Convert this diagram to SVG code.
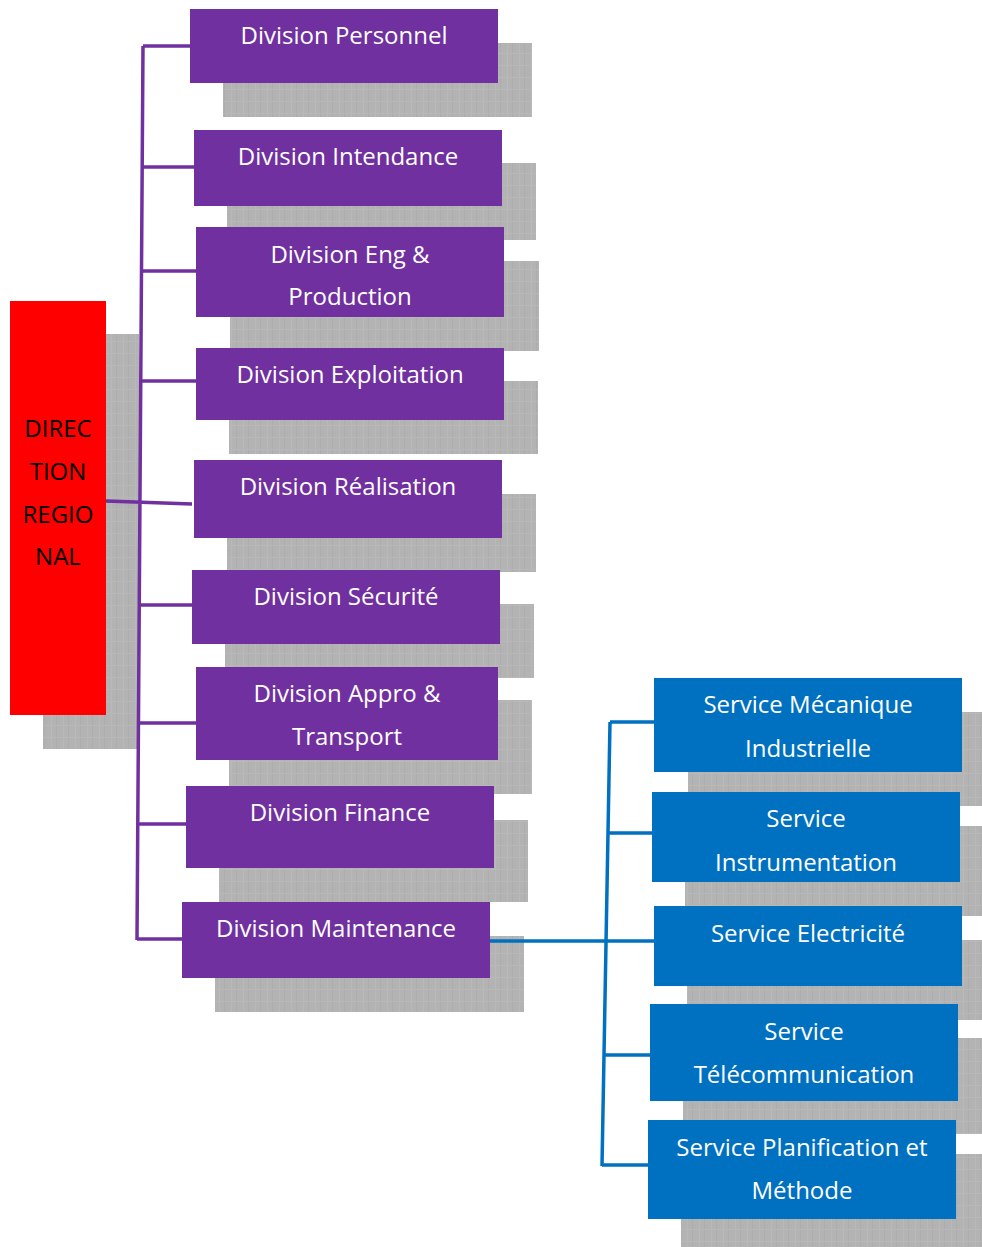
<svg xmlns="http://www.w3.org/2000/svg" width="982" height="1247" viewBox="0 0 982 1247">
<defs>
<pattern id="tex" width="12" height="12" patternUnits="userSpaceOnUse">
<rect width="12" height="12" fill="#b3b3b3"/>
<rect x="3" width="1" height="12" fill="#b9b9b9"/>
<rect x="8" width="1" height="12" fill="#adadad"/>
<rect y="5" width="12" height="1" fill="#b8b8b8"/>
</pattern>
<style>
.sh{fill:url(#tex)}
.pu{fill:#7030A0}
.bl{fill:#0070C0}
.rd{fill:#FF0000}
.t{font-family:"Open Sans","Noto Sans",sans-serif;font-size:24px;fill:#ffffff;text-anchor:middle}
.tk{font-family:"Open Sans","Noto Sans",sans-serif;font-size:24px;fill:#000000;text-anchor:middle}
.cp{stroke:#7030A0;stroke-width:3.5;fill:none}
.cb{stroke:#0070C0;stroke-width:3.5;fill:none}
</style>
</defs>
<rect width="982" height="1247" fill="#ffffff"/>

<g id="direction">
<rect class="sh" x="43" y="334" width="96" height="415"/>
<rect class="rd" x="10" y="301" width="96" height="414"/>
<text class="tk" x="58" y="437">DIREC</text>
<text class="tk" x="58" y="480">TION</text>
<text class="tk" x="58" y="523">REGIO</text>
<text class="tk" x="58" y="565">NAL</text>
</g>

<g id="div-personnel">
<rect class="sh" x="223" y="43" width="309" height="74"/>
<rect class="pu" x="190" y="9" width="308" height="74"/>
<text class="t" x="344" y="44">Division Personnel</text>
</g>
<g id="div-intendance">
<rect class="sh" x="227" y="163" width="309" height="77"/>
<rect class="pu" x="194" y="130" width="308" height="76"/>
<text class="t" x="348" y="165">Division Intendance</text>
</g>
<g id="div-eng">
<rect class="sh" x="230" y="261" width="309" height="90"/>
<rect class="pu" x="196" y="227" width="308" height="90"/>
<text class="t" x="350" y="263">Division Eng &amp;</text>
<text class="t" x="350" y="305">Production</text>
</g>
<g id="div-exploitation">
<rect class="sh" x="229" y="381" width="309" height="73"/>
<rect class="pu" x="196" y="348" width="308" height="72"/>
<text class="t" x="350" y="383">Division Exploitation</text>
</g>
<g id="div-realisation">
<rect class="sh" x="227" y="494" width="309" height="78"/>
<rect class="pu" x="194" y="460" width="308" height="78"/>
<text class="t" x="348" y="495">Division Réalisation</text>
</g>
<g id="div-securite">
<rect class="sh" x="225" y="604" width="309" height="74"/>
<rect class="pu" x="192" y="570" width="308" height="74"/>
<text class="t" x="346" y="605">Division Sécurité</text>
</g>
<g id="div-appro">
<rect class="sh" x="229" y="700" width="303" height="94"/>
<rect class="pu" x="196" y="667" width="302" height="93"/>
<text class="t" x="347" y="702">Division Appro &amp;</text>
<text class="t" x="347" y="745">Transport</text>
</g>
<g id="div-finance">
<rect class="sh" x="219" y="820" width="309" height="82"/>
<rect class="pu" x="186" y="786" width="308" height="82"/>
<text class="t" x="340" y="821">Division Finance</text>
</g>
<g id="div-maintenance">
<rect class="sh" x="215" y="936" width="309" height="76"/>
<rect class="pu" x="182" y="902" width="308" height="76"/>
<text class="t" x="336" y="937">Division Maintenance</text>
</g>

<g id="svc-mecanique">
<rect class="sh" x="688" y="712" width="308" height="94"/>
<rect class="bl" x="654" y="678" width="308" height="94"/>
<text class="t" x="808" y="713">Service Mécanique</text>
<text class="t" x="808" y="757">Industrielle</text>
</g>
<g id="svc-instrumentation">
<rect class="sh" x="685" y="826" width="308" height="90"/>
<rect class="bl" x="652" y="792" width="308" height="90"/>
<text class="t" x="806" y="827">Service</text>
<text class="t" x="806" y="871">Instrumentation</text>
</g>
<g id="svc-electricite">
<rect class="sh" x="687" y="940" width="308" height="80"/>
<rect class="bl" x="654" y="906" width="308" height="80"/>
<text class="t" x="808" y="942">Service Electricité</text>
</g>
<g id="svc-telecom">
<rect class="sh" x="683" y="1038" width="308" height="96"/>
<rect class="bl" x="650" y="1004" width="308" height="97"/>
<text class="t" x="804" y="1040">Service</text>
<text class="t" x="804" y="1083">Télécommunication</text>
</g>
<g id="svc-planification">
<rect class="sh" x="681" y="1154" width="308" height="93"/>
<rect class="bl" x="648" y="1120" width="308" height="99"/>
<text class="t" x="802" y="1156">Service Planification et</text>
<text class="t" x="802" y="1199">Méthode</text>
</g>

<g id="connectors">
<path class="cp" d="M143,46 L137,940 M143,46 H190 M142,167 H194 M142,271 H196 M141,381 H196 M106,501 L192,504 M140,605 H192 M139,723 H196 M138,824 H186 M137,939 H182"/>
<path class="cb" d="M490,941 H654 M610,722 L602,1166 M610,722 H654 M608,833 H652 M604,1055 H650 M602,1165 H648"/>
</g>
</svg>
